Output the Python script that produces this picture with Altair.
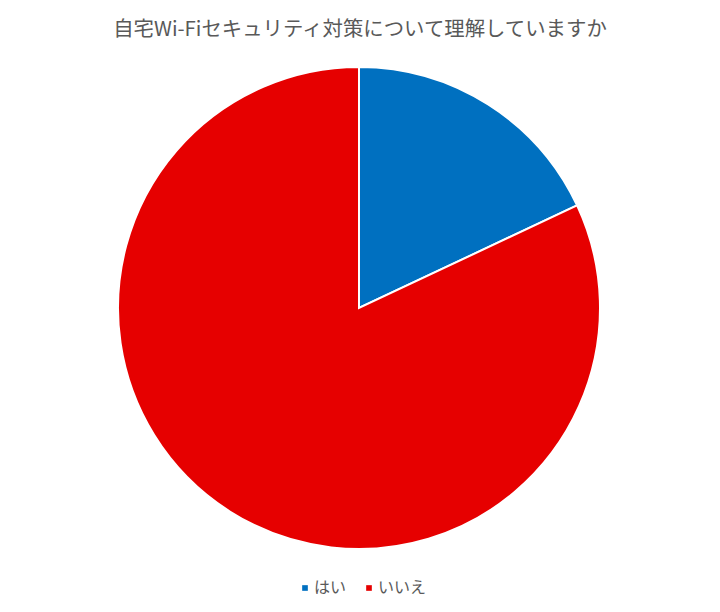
import altair as alt
import pandas as pd

title_text = "自宅Wi-Fiセキュリティ対策について理解していますか"
categories = ["はい", "いいえ"]
values = [18, 82]
order = [1, 2]
colors = ["#0070C0", "#E60000"]

df = pd.DataFrame({"answer": categories, "value": values, "order": order})

pie = alt.Chart(df).mark_arc(stroke="white", strokeWidth=2, radius=241).encode(
    theta=alt.Theta("value:Q", stack=True),
    order=alt.Order("order:Q"),
    color=alt.Color(
        "answer:N",
        scale=alt.Scale(domain=categories, range=colors),
        legend=alt.Legend(
            title=None,
            orient="none",
            direction="horizontal",
            legendX=289,
            legendY=572,
            symbolType="square",
            symbolSize=32,
            symbolStrokeWidth=0,
            labelFont="Noto Sans CJK JP",
            labelFontSize=16,
            labelColor="#595959",
            columnPadding=14,
            labelOffset=1,
        ),
    ),
    x=alt.value(351),
    y=alt.value(300),
)

title = alt.Chart(pd.DataFrame({"t": [title_text]})).mark_text(
    font="Noto Sans CJK JP",
    fontSize=20.4,
    color="#595959",
    align="center",
    baseline="middle",
).encode(text="t:N", x=alt.value(352), y=alt.value(22))

chart = alt.layer(pie, title).properties(
    width=704,
    height=596,
    autosize=alt.AutoSizeParams(type="none"),
    padding=0,
).configure_view(stroke=None)

chart.save("out.html", embed_options={"renderer": "svg", "actions": False})
